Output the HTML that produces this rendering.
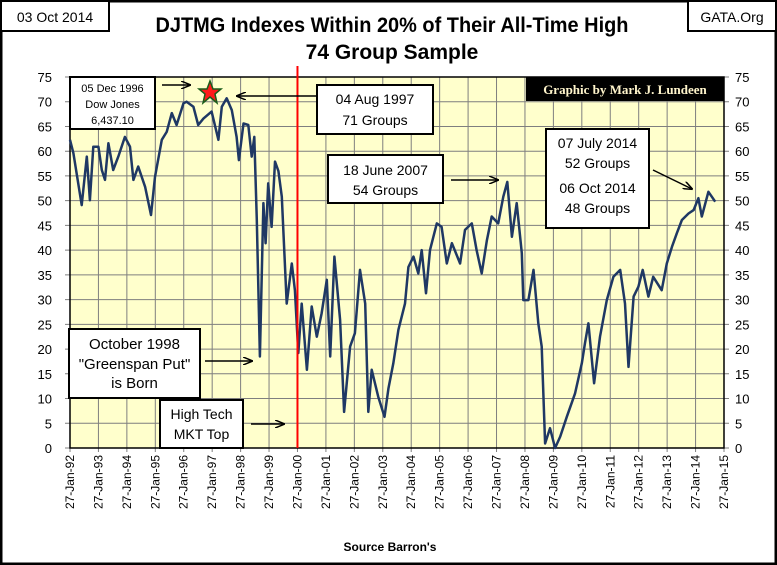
<!DOCTYPE html>
<html><head><meta charset="utf-8">
<style>
html,body{margin:0;padding:0;background:#fff;}
svg{display:block;font-family:"Liberation Sans",sans-serif;}
</style></head>
<body>
<svg id="chart" width="777" height="565" viewBox="0 0 777 565">
  <rect x="1" y="1" width="775" height="563" fill="#fff" stroke="#000" stroke-width="3"/>
  <rect x="1" y="1" width="108" height="30" fill="#fff" stroke="#000" stroke-width="2"/>
  <text x="55" y="22" font-size="14" text-anchor="middle" font-family="Liberation Sans Narrow, Liberation Sans, sans-serif">03 Oct 2014</text>
  <rect x="688" y="1" width="88" height="30" fill="#fff" stroke="#000" stroke-width="2"/>
  <text x="732" y="22" font-size="14" text-anchor="middle" font-family="Liberation Sans Narrow, Liberation Sans, sans-serif">GATA.Org</text>
  <text x="392" y="32" font-size="21" font-weight="bold" text-anchor="middle" textLength="473" lengthAdjust="spacingAndGlyphs" font-family="Liberation Sans Narrow, Liberation Sans, sans-serif">DJTMG Indexes  Within 20% of Their All-Time High</text>
  <text x="392" y="59" font-size="21" font-weight="bold" text-anchor="middle" font-family="Liberation Sans Narrow, Liberation Sans, sans-serif">74 Group Sample</text>
  <g id="plot"></g>
  <text x="390" y="551" font-size="12" font-weight="bold" text-anchor="middle">Source Barron's</text>
</svg>
<script>
const yTicks = [0,5,10,15,20,25,30,35,40,45,50,55,60,65,70,75];
const xTickLabels = ["27-Jan-92","27-Jan-93","27-Jan-94","27-Jan-95","27-Jan-96","27-Jan-97","27-Jan-98","27-Jan-99","27-Jan-00","27-Jan-01","27-Jan-02","27-Jan-03","27-Jan-04","27-Jan-05","27-Jan-06","27-Jan-07","27-Jan-08","27-Jan-09","27-Jan-10","27-Jan-11","27-Jan-12","27-Jan-13","27-Jan-14","27-Jan-15"];
const dates = [1992.07,1992.19,1992.48,1992.66,1992.77,1992.89,1993.07,1993.19,1993.30,1993.42,1993.59,1993.77,1994.00,1994.18,1994.30,1994.47,1994.71,1994.92,1995.06,1995.30,1995.47,1995.65,1995.82,1996.06,1996.17,1996.41,1996.58,1996.76,1997.05,1997.29,1997.41,1997.58,1997.76,1997.93,1998.01,1998.17,1998.34,1998.46,1998.55,1998.64,1998.75,1998.87,1998.95,1999.04,1999.16,1999.28,1999.40,1999.52,1999.69,1999.87,1999.98,2000.10,2000.22,2000.40,2000.57,2000.75,2000.92,2001.10,2001.22,2001.37,2001.57,2001.71,2001.92,2002.09,2002.27,2002.45,2002.56,2002.68,2002.91,2003.13,2003.27,2003.44,2003.62,2003.85,2003.97,2004.15,2004.32,2004.44,2004.59,2004.73,2004.97,2005.14,2005.32,2005.50,2005.79,2005.96,2006.20,2006.37,2006.55,2006.73,2006.90,2007.13,2007.31,2007.45,2007.61,2007.78,2007.96,2008.01,2008.19,2008.37,2008.54,2008.66,2008.78,2008.95,2009.13,2009.31,2009.54,2009.83,2010.07,2010.18,2010.30,2010.50,2010.71,2010.95,2011.18,2011.42,2011.59,2011.71,2011.89,2012.06,2012.21,2012.41,2012.58,2012.88,2013.06,2013.24,2013.41,2013.59,2013.82,2014.00,2014.17,2014.29,2014.52,2014.64,2014.76];
const groups = [62.3,59.6,49.1,58.9,50.1,60.9,60.9,56.2,54.2,61.6,56.2,58.9,62.9,60.9,54.2,56.9,52.8,47.1,54.8,62.3,63.9,67.7,65.3,69.7,70,69,65.3,66.6,68,62.3,69,70.7,68.3,62.9,58.2,65.6,65.3,58.9,62.9,46.1,18.5,49.5,41.4,53.5,44.7,57.9,56,50.8,29.2,37.3,31.9,19.2,29.2,15.8,28.6,22.5,27.2,34,18.5,38.7,25.9,7.3,20.5,23.2,36,29.2,7.3,15.8,10.4,6.3,12.1,17.1,23.9,29.2,36.6,38.7,35.3,40,31.3,40,45.4,44.7,37.3,41.4,37.3,44.1,45.4,40,35.3,42,46.8,45.4,50.8,53.8,42.7,49.5,39.4,29.9,29.9,36,25.2,20.5,0.9,4,0,2.3,6.3,11,17.1,21.2,25.2,13.1,22.5,29.9,34.6,36,29.2,16.4,30.6,32.6,36,30.6,34.6,31.9,37.3,40.7,43.4,46.1,47.4,48.1,50.5,46.8,51.8,50.8,49.8];

const NS="http://www.w3.org/2000/svg";
const L=70,R=724,T=77,B=448;
const x0=1992.07,x1=2015.07;
function xs(d){return L+(d-x0)/(x1-x0)*(R-L);}
function ys(v){return B-v/75*(B-T);}
const plot=document.getElementById('plot');
function mk(tag,attrs,parent){const e=document.createElementNS(NS,tag);for(const k in attrs)e.setAttribute(k,attrs[k]);(parent||plot).appendChild(e);return e;}

let bg=mk('rect',{x:L,y:T,width:R-L,height:B-T,fill:'#FFFFCC'});



yTicks.forEach(v=>{
  const y=ys(v);
  let g=mk('line',{x1:L-5,x2:R+5,y1:y,y2:y,stroke:'#7f7f7f','stroke-width':1});
  
  
  let t=mk('text',{x:L-18,y:y+5,'font-size':13,'text-anchor':'end'});
  t.textContent=v;
  
  
  let t2=mk('text',{x:R+11,y:y+5,'font-size':13,'text-anchor':'start'});
  t2.textContent=v;
  
  
});
xTickLabels.forEach((lab,i)=>{
  const x=xs(x0+i);
  let g=mk('line',{x1:x,x2:x,y1:T,y2:B+4,stroke:'#7f7f7f','stroke-width':1});
  
  
  let t=mk('text',{x:0,y:0,'font-size':12,'text-anchor':'end',transform:`translate(${x+4},${B+7}) rotate(-90)`});
  t.textContent=lab;
  
  
});
let fr=mk('rect',{x:L,y:T,width:R-L,height:B-T,fill:'none',stroke:'#000','stroke-width':1.5});



let pts=dates.map((d,i)=>xs(d).toFixed(1)+','+ys(groups[i]).toFixed(1)).join(' ');
let line=mk('polyline',{points:pts,fill:'none',stroke:'#1F3864','stroke-width':2.5,'stroke-linejoin':'round'});



let rl=mk('line',{x1:xs(2000.07),x2:xs(2000.07),y1:66,y2:B,stroke:'#ff0000','stroke-width':2});



function box(x,y,w,h,lines,fs,name,dy){
  let r=mk('rect',{x,y,width:w,height:h,fill:'#fff',stroke:'#000','stroke-width':2});
  
  
  lines.forEach((s,i)=>{
    let t=mk('text',{x:x+w/2,y:y+dy[i],'font-size':fs,'text-anchor':'middle'});
    t.textContent=s;
    
    
  });
}
function arrow(xa,ya,xb,yb,name){
  let a=mk('line',{x1:xa,y1:ya,x2:xb,y2:yb,stroke:'#000','stroke-width':1.5,'marker-end':'url(#ah)'});
  
  
}
const defs=mk('defs',{});
const m=mk('marker',{id:'ah',markerWidth:10,markerHeight:8,refX:9,refY:4,orient:'auto',markerUnits:'userSpaceOnUse'},defs);
mk('path',{d:'M0,0 L10,4 L0,8',fill:'none',stroke:'#000','stroke-width':1.5},m);

box(70,77,85,52,["05  Dec 1996","Dow Jones","6,437.10"],11,'dow-peak-box',[15,31,47]);
arrow(162,85,190,85,'dow-peak-arrow');
let star=mk('polygon',{points:'210,81 213,89 221,89 215,94 217,103 210,97 203,103 205,94 199,89 207,89',fill:'#ff1a1a',stroke:'#1a5c1a','stroke-width':1.5});


arrow(317,96,237,96,'aug-1997-arrow');
box(317,85,116,49,["04 Aug 1997","71 Groups"],14,'aug-1997-box',[19,40]);
box(328,155,115,48,["18 June 2007","54 Groups"],14,'june-2007-box',[20,40]);
arrow(451,180,498,180,'june-2007-arrow');
let gb=mk('rect',{x:526,y:77,width:198,height:24,fill:'#000'});


let gt=mk('text',{x:625,y:94,'font-size':13,'font-weight':'bold','text-anchor':'middle',fill:'#FFF5CC','font-family':'Liberation Serif, serif'});
gt.textContent='Graphic by Mark J. Lundeen';


box(546,129,103,99,["07 July 2014","52 Groups","06 Oct 2014","48 Groups"],14,'july-2014-box',[19,39,64,84]);
arrow(653,170,692,189,'july-2014-arrow');
box(69,329,131,69,["October 1998","\"Greenspan Put\"","is Born"],15,'greenspan-put-box',[20,40,59]);
arrow(205,361,252,361,'greenspan-put-arrow');
box(160,400,83,48,["High Tech","MKT Top"],14,'high-tech-box',[19,39]);
arrow(251,424,284,424,'high-tech-arrow');
</script>
</body></html>
